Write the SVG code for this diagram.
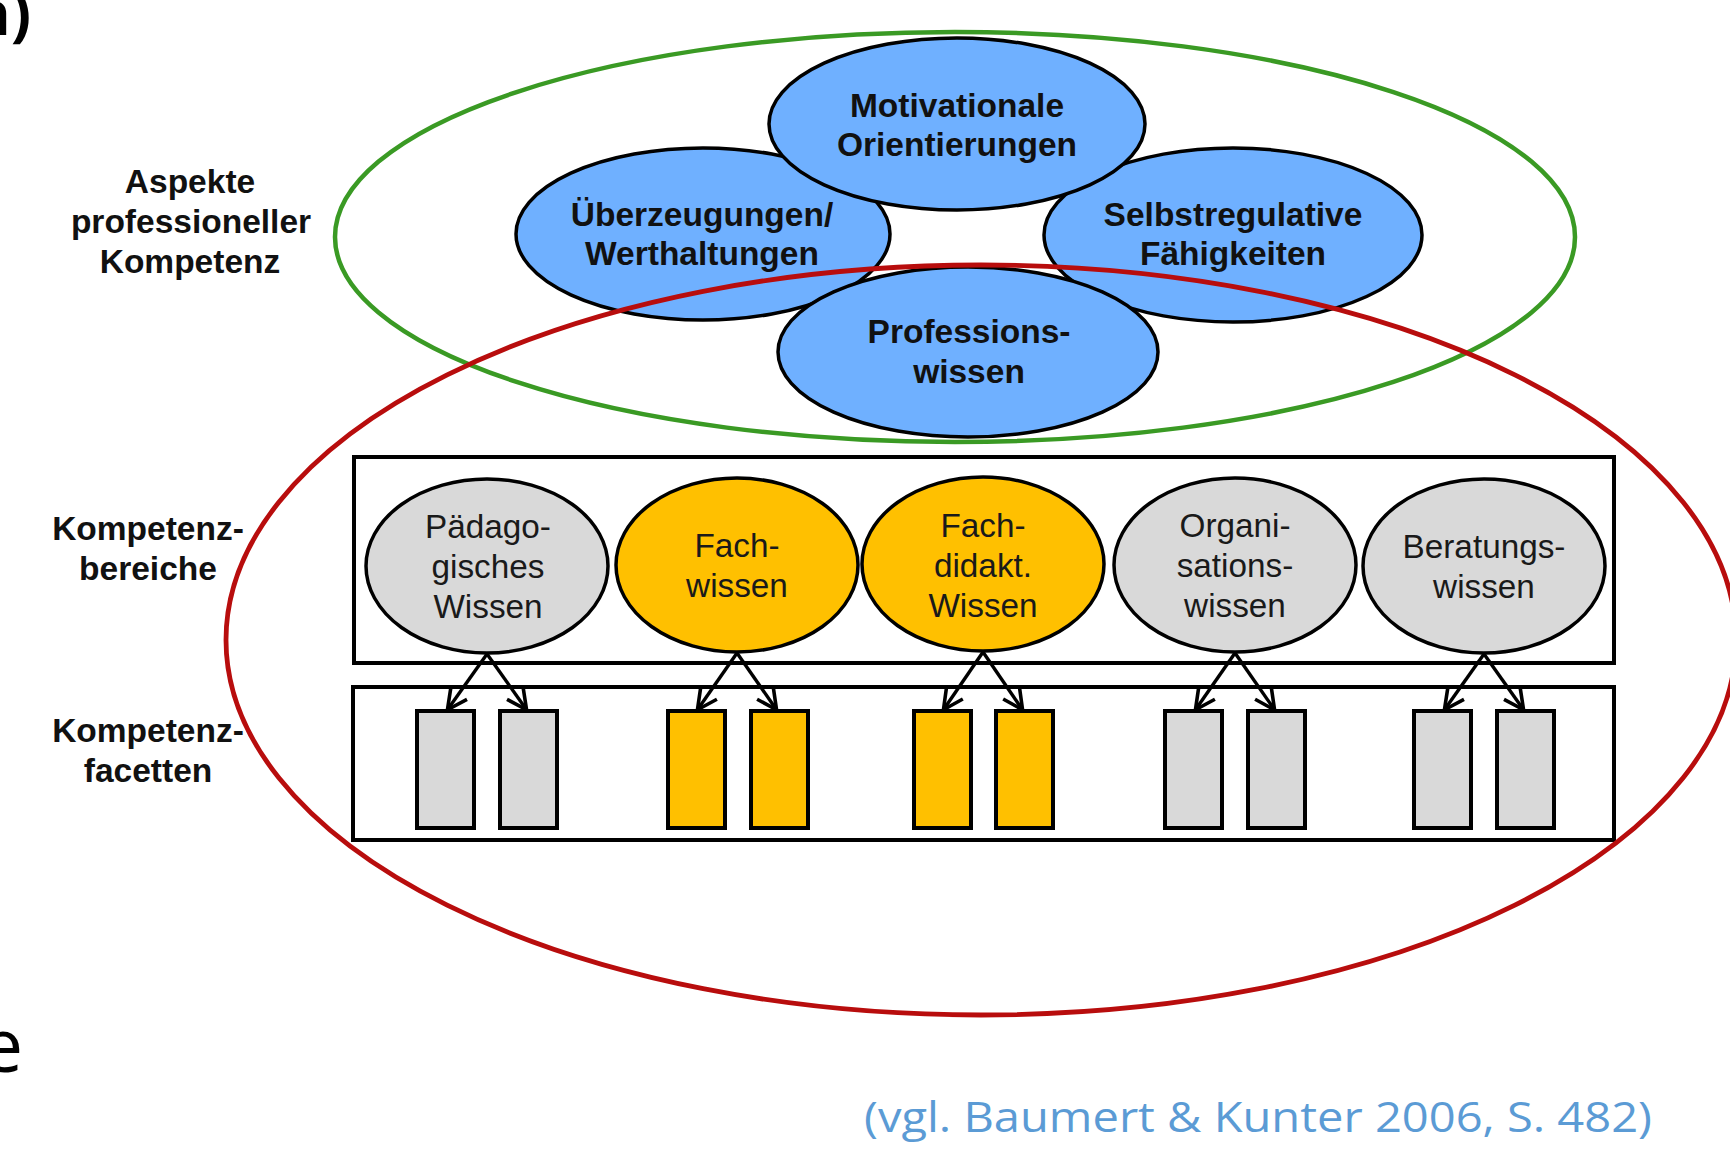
<svg xmlns="http://www.w3.org/2000/svg" width="1730" height="1152" viewBox="0 0 1730 1152">
<style>
.lbl{font-family:"Liberation Sans",Arial,sans-serif;font-weight:bold;font-size:33.5px;fill:#111;text-anchor:middle}
.bt{font-family:"Liberation Sans",Arial,sans-serif;font-weight:bold;font-size:33.5px;fill:#111;text-anchor:middle}
.rt{font-family:"Liberation Sans",Arial,sans-serif;font-size:33.3px;fill:#1a1a1a;text-anchor:middle}
.blue{fill:#6fb0ff;stroke:#000;stroke-width:3.5}
.gray{fill:#d9d9d9;stroke:#000;stroke-width:3.5}
.gold{fill:#ffc000;stroke:#000;stroke-width:3.5}
.box{fill:none;stroke:#000;stroke-width:4}
.fg{fill:#d9d9d9;stroke:#000;stroke-width:4}
.fo{fill:#ffc000;stroke:#000;stroke-width:4}
.arr{stroke:#000;stroke-width:3.4;fill:none;marker-end:url(#ah)}
</style>
<defs>
<marker id="ah" viewBox="0 0 12 12" refX="10.5" refY="6" markerWidth="7" markerHeight="7" orient="auto" markerUnits="strokeWidth">
<path d="M1,1 L11,6 L1,11" fill="none" stroke="#000" stroke-width="1.8"/>
</marker>
</defs>
<rect width="1730" height="1152" fill="#fff"/>
<g id="fragments">
<text x="31" y="35" font-family="'Open Sans',sans-serif" font-weight="bold" font-size="60" text-anchor="end" fill="#000">n)</text>
<text x="23" y="1072" font-family="'Open Sans',sans-serif" font-size="75" text-anchor="end" fill="#000">e</text>
</g>
<g id="side-labels">
<text class="lbl" x="190" y="193">Aspekte</text>
<text class="lbl" x="191" y="233">professioneller</text>
<text class="lbl" x="190" y="273">Kompetenz</text>
<text class="lbl" x="148" y="540">Kompetenz-</text>
<text class="lbl" x="148" y="580">bereiche</text>
<text class="lbl" x="148" y="742">Kompetenz-</text>
<text class="lbl" x="148" y="782">facetten</text>
</g>
<g id="box-bereiche"><rect class="box" x="354" y="457" width="1260" height="206"/></g>
<g id="box-facetten"><rect class="box" x="353" y="687" width="1261" height="153"/></g>
<g id="aspekte-ellipse"><ellipse cx="955" cy="237" rx="620" ry="205" fill="none" stroke="#3a9a24" stroke-width="4.5"/></g>
<g id="n-ueberzeugungen"><ellipse class="blue" cx="703" cy="234" rx="187" ry="86"/><text class="bt" x="702" y="226">Überzeugungen/</text><text class="bt" x="702" y="265">Werthaltungen</text></g>
<g id="n-selbstregulative"><ellipse class="blue" cx="1233" cy="235" rx="189" ry="87"/><text class="bt" x="1233" y="226">Selbstregulative</text><text class="bt" x="1233" y="265">Fähigkeiten</text></g>
<g id="n-motivationale"><ellipse class="blue" cx="957" cy="124" rx="188" ry="86"/><text class="bt" x="957" y="117">Motivationale</text><text class="bt" x="957" y="156">Orientierungen</text></g>
<g id="n-professionswissen"><ellipse class="blue" cx="968" cy="352" rx="190" ry="85"/><text class="bt" x="969" y="343">Professions-</text><text class="bt" x="969" y="383">wissen</text></g>
<g id="n-paedagogisch"><ellipse class="gray" cx="487" cy="566" rx="121" ry="87"/><text class="rt" x="488" y="538">Pädago-</text><text class="rt" x="488" y="578">gisches</text><text class="rt" x="488" y="618">Wissen</text></g>
<g id="n-fachwissen"><ellipse class="gold" cx="737" cy="565" rx="121" ry="87"/><text class="rt" x="737" y="557">Fach-</text><text class="rt" x="737" y="597">wissen</text></g>
<g id="n-fachdidaktik"><ellipse class="gold" cx="983" cy="564" rx="121" ry="87"/><text class="rt" x="983" y="537">Fach-</text><text class="rt" x="983" y="577">didakt.</text><text class="rt" x="983" y="617">Wissen</text></g>
<g id="n-organisation"><ellipse class="gray" cx="1235" cy="565" rx="121" ry="87"/><text class="rt" x="1235" y="537">Organi-</text><text class="rt" x="1235" y="577">sations-</text><text class="rt" x="1235" y="617">wissen</text></g>
<g id="n-beratung"><ellipse class="gray" cx="1484" cy="566" rx="121" ry="87"/><text class="rt" x="1484" y="558">Beratungs-</text><text class="rt" x="1484" y="598">wissen</text></g>
<g id="facetten">
<rect class="fg" x="417" y="711" width="57" height="117"/><rect class="fg" x="500" y="711" width="57" height="117"/>
<rect class="fo" x="668" y="711" width="57" height="117"/><rect class="fo" x="751" y="711" width="57" height="117"/>
<rect class="fo" x="914" y="711" width="57" height="117"/><rect class="fo" x="996" y="711" width="57" height="117"/>
<rect class="fg" x="1165" y="711" width="57" height="117"/><rect class="fg" x="1248" y="711" width="57" height="117"/>
<rect class="fg" x="1414" y="711" width="57" height="117"/><rect class="fg" x="1497" y="711" width="57" height="117"/>
</g>
<g id="connectors">
<line class="arr" x1="487" y1="654" x2="448" y2="709"/><line class="arr" x1="487" y1="654" x2="526" y2="709"/>
<line class="arr" x1="737" y1="653" x2="698" y2="709"/><line class="arr" x1="737" y1="653" x2="776" y2="709"/>
<line class="arr" x1="983" y1="652" x2="944" y2="709"/><line class="arr" x1="983" y1="652" x2="1022" y2="709"/>
<line class="arr" x1="1235" y1="653" x2="1196" y2="709"/><line class="arr" x1="1235" y1="653" x2="1274" y2="709"/>
<line class="arr" x1="1484" y1="654" x2="1445" y2="709"/><line class="arr" x1="1484" y1="654" x2="1523" y2="709"/>
</g>
<g id="wissen-ellipse"><ellipse cx="981" cy="640" rx="755" ry="375" fill="none" stroke="#b80d0d" stroke-width="4.8"/></g>
<g id="citation"><text x="864" y="1132" font-family="'Open Sans',sans-serif" font-size="42" fill="#5b9bd5" textLength="788" lengthAdjust="spacingAndGlyphs">(vgl. Baumert &amp; Kunter 2006, S. 482)</text></g>
</svg>
